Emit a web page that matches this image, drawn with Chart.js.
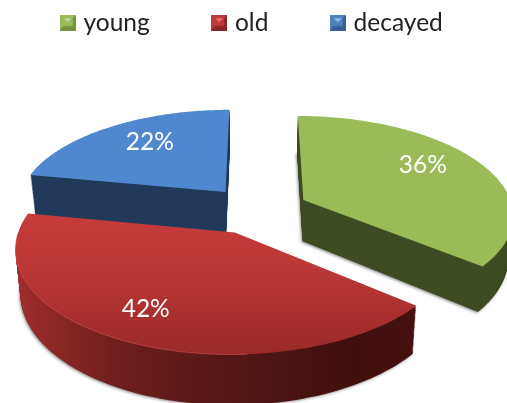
<!DOCTYPE html>
<html>
<head>
<meta charset="utf-8">
<script src="https://cdn.jsdelivr.net/npm/chart.js@4"></script>
<style>
  html, body { margin: 0; padding: 0; background: #fff; }
  canvas { display: block; }
</style>
</head>
<body>
<canvas id="chart" width="507" height="403"></canvas>
<script>
// ---- data -----------------------------------------------------------
const categories = ["young", "old", "decayed"];
const shares = [36, 42, 22];

// ---- colours --------------------------------------------------------
const topColors = ["#9bbb59", "#c0393a", "#5088d0"];
const wallColors = ["#3f4c23", "#561715", "#223a5a"];
const markerColors = [
  ["#9bbb59", "#c3d69b", "#76923c"],
  ["#c0393a", "#f06a6a", "#8a2423"],
  ["#4f81bd", "#8fc0f5", "#376092"],
];

// ---- flat pie -> tilted pie ------------------------------------------
const RX = 210, RY = 98.2, PERSP = 0.139, DEPTH = 42;
const DRAW_ORDER = [2, 0, 1];
const LABEL_SPOT = [[0.73, -6.8], [0.755, 3.5], [0.71, 4.2]]; // radius share, angle nudge (deg)

function project(el, angle, r, z) {
  const mid = (el.startAngle + el.endAngle) / 2;
  const e = el.options.offset / el.outerRadius;
  const u = Math.cos(angle) * r + e * Math.cos(mid);
  const v = -Math.sin(angle) * r - e * Math.sin(mid);
  const s = 1 / (1 + PERSP * v);
  const k = 1 - (0.02 * z) / DEPTH;
  return {
    x: el.x + RX * u * s * k,
    y: el.y - RY * v * s + z * s,
  };
}

function slicePath(ctx, el, z) {
  const steps = 90;
  ctx.beginPath();
  const c = project(el, el.startAngle, 0, z);
  ctx.moveTo(c.x, c.y);
  for (let i = 0; i <= steps; i++) {
    const a = el.startAngle + ((el.endAngle - el.startAngle) * i) / steps;
    const p = project(el, a, 1, z);
    ctx.lineTo(p.x, p.y);
  }
  ctx.closePath();
}

const tiltedPie = {
  id: "tiltedPie",
  beforeDatasetsDraw(chart) {
    const ctx = chart.ctx;
    const arcs = chart.getDatasetMeta(0).data;
    DRAW_ORDER.forEach((i) => {
      const el = arcs[i];
      let wall = wallColors[i];
      let top = topColors[i];
      if (i === 1) {
        wall = ctx.createLinearGradient(15, 0, 415, 0);
        wall.addColorStop(0, "#a02e2c");
        wall.addColorStop(0.25, "#6f1f1d");
        wall.addColorStop(0.5, "#571715");
        wall.addColorStop(0.85, "#3f0f0e");
        wall.addColorStop(1, "#46110f");
        top = ctx.createLinearGradient(0, 212, 0, 352);
        top.addColorStop(0, "#c63c3b");
        top.addColorStop(0.4, "#bc3737");
        top.addColorStop(1, "#9a2a29");
      }

      // side walls, stacked from the bottom up
      ctx.save();
      ctx.shadowColor = "rgba(0,0,0,0.45)";
      ctx.shadowBlur = 3;
      ctx.shadowOffsetX = -1;
      ctx.shadowOffsetY = 1;
      ctx.fillStyle = wall;
      slicePath(ctx, el, DEPTH);
      ctx.fill();
      ctx.restore();
      ctx.fillStyle = wall;
      for (let z = DEPTH - 1; z > 0; z--) {
        slicePath(ctx, el, z);
        ctx.fill();
      }

      // top face
      ctx.fillStyle = top;
      slicePath(ctx, el, 0);
      ctx.fill();

      // thin light rim along the front of the red slice
      if (i === 1) {
        ctx.strokeStyle = "rgba(226,90,88,0.55)";
        ctx.lineWidth = 1;
        ctx.beginPath();
        for (let a = Math.PI * 0.48; a < Math.PI; a += 0.01) {
          const p = project(el, a, 1, 0);
          ctx.lineTo(p.x, p.y);
        }
        ctx.stroke();
      }
    });
    return false; // arcs are painted above
  },
  afterDraw(chart) {
    const ctx = chart.ctx;
    const arcs = chart.getDatasetMeta(0).data;
    ctx.save();
    ctx.fillStyle = "#fff";
    ctx.font = "24.5px Lato";
    ctx.textAlign = "center";
    ctx.textBaseline = "middle";
    arcs.forEach((el, i) => {
      const mid = (el.startAngle + el.endAngle) / 2 + (LABEL_SPOT[i][1] * Math.PI) / 180;
      const p = project(el, mid, LABEL_SPOT[i][0], 0);
      ctx.fillText(shares[i] + "%", p.x, p.y);
    });
    ctx.restore();
  },
};

// legend spacing needs a wide padding, keep it from wrapping or pushing the pie down
const legendRow = {
  id: "legendRow",
  beforeInit(chart) {
    const fit = chart.legend.fit;
    chart.legend.fit = function () {
      this.maxWidth = 600;
      fit.call(this);
      this.width = chart.width;
      this.height = 45;
    };
  },
  afterLayout(chart) {
    chart.legend.top = -55;
    chart.legend.left = -100;
    chart.legend.right = chart.width + 100;
  },
};

function bevelMarker(colors) {
  const c = document.createElement("canvas");
  c.width = 16;
  c.height = 16;
  const g = c.getContext("2d");
  g.fillStyle = colors[0];
  g.fillRect(0, 0, 16, 16);
  g.fillStyle = colors[2];
  g.beginPath();
  g.moveTo(0, 16); g.lineTo(16, 16); g.lineTo(16, 0); g.lineTo(13, 3); g.lineTo(13, 11); g.lineTo(3, 11);
  g.closePath();
  g.fill();
  g.fillStyle = colors[1];
  g.beginPath();
  g.moveTo(4, 3); g.lineTo(12, 3); g.lineTo(8, 7);
  g.closePath();
  g.fill();
  return c;
}

new Chart(document.getElementById("chart"), {
  type: "pie",
  data: {
    labels: categories,
    datasets: [
      {
        data: shares,
        backgroundColor: topColors,
        offset: 36,
        borderWidth: 0,
      },
    ],
  },
  options: {
    responsive: false,
    animation: false,
    layout: { padding: { left: 8, bottom: 28 } },
    plugins: {
      tooltip: { enabled: false },
      legend: {
        position: "top",
        labels: {
          usePointStyle: true,
          boxWidth: 7,
          padding: 66,
          color: "#222",
          font: { family: "Lato", size: 24.5 },
          generateLabels() {
            return categories.map((text, i) => ({
              text,
              pointStyle: bevelMarker(markerColors[i]),
              fontColor: "#222",
              lineWidth: 0,
              index: i,
            }));
          },
        },
      },
    },
  },
  plugins: [tiltedPie, legendRow],
});
</script>
</body>
</html>
